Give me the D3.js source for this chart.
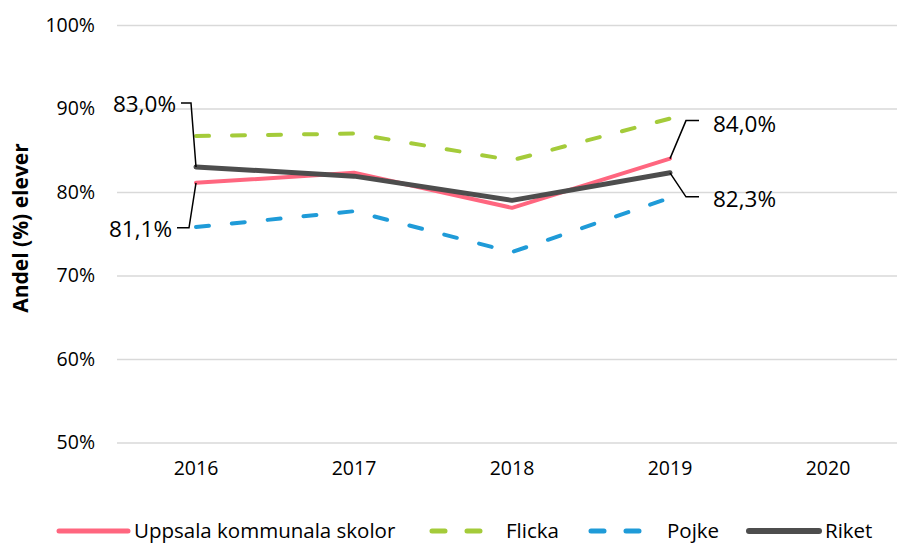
<!DOCTYPE html>
<html>
<head>
<meta charset="utf-8">
<script src="https://cdn.jsdelivr.net/npm/d3@7"></script>
<style>
  body { margin: 0; background: #fff; }
  svg { display: block; font-family: "Open Sans", sans-serif; }
</style>
</head>
<body>
<div id="chart"></div>
<script>
var years = ['2016', '2017', '2018', '2019', '2020'];
var uppsala = [81.1, 82.3, 78.1, 84.0];
var flicka = [86.7, 87.0, 83.8, 88.8];
var pojke = [75.8, 77.7, 72.8, 79.3];
var riket = [83.0, 81.9, 79.0, 82.3];
var yTicks = [50, 60, 70, 80, 90, 100];

var series = [
    { name: 'Uppsala kommunala skolor', values: uppsala, color: '#FF667F', width: 4, dash: null },
    { name: 'Flicka', values: flicka, color: '#A4CB3A', width: 4, dash: '13 23' },
    { name: 'Pojke', values: pojke, color: '#1F9BD8', width: 4, dash: '13 23' },
    { name: 'Riket', values: riket, color: '#4D4D4D', width: 5, dash: null }
];

// labelled points: series index, year index, offsets for leader/text
var labels = [
    { s: 3, i: 0, pts: [[-5, -64], [-15, -64]], tx: -20, ty: -63, anchor: 'end' },
    { s: 0, i: 0, pts: [[-7, 45], [-19, 45]], tx: -24, ty: 46, anchor: 'end' },
    { s: 0, i: 3, pts: [[16, -38], [29, -38]], tx: 43, ty: -34, anchor: 'start' },
    { s: 3, i: 3, pts: [[16, 24], [29, 24]], tx: 43, ty: 26, anchor: 'start' }
];

var W = 897, H = 545;
var svg = d3.select('#chart').append('svg')
    .attr('width', W)
    .attr('height', H);

var x = d3.scaleBand()
    .domain(years)
    .range([117, 907]);

var y = d3.scaleLinear()
    .domain([50, 100])
    .range([442.5, 25]);

function cx(i) { return x(years[i]) + x.bandwidth() / 2; }

// grid + y labels
var yAxis = d3.axisLeft(y)
    .tickValues(yTicks)
    .tickSize(-(907 - 117))
    .tickPadding(22)
    .tickFormat(function(d) { return d + '%'; });

var yG = svg.append('g')
    .attr('transform', 'translate(117,0)')
    .call(yAxis);
yG.select('.domain').remove();
yG.selectAll('line')
    .attr('stroke', '#d9d9d9')
    .attr('stroke-width', 1.5);
yG.selectAll('text')
    .attr('fill', '#000')
    .style('font-size', '19.5px')
    .style('font-family', '"Open Sans", sans-serif');

// x labels
var xAxis = d3.axisBottom(x).tickSize(0).tickPadding(0);
var xG = svg.append('g')
    .attr('transform', 'translate(0,461)')
    .call(xAxis);
xG.select('.domain').remove();
xG.selectAll('text')
    .attr('fill', '#000')
    .style('font-size', '19.5px')
    .style('font-family', '"Open Sans", sans-serif');

// axis title
svg.append('text')
    .attr('transform', 'translate(21,228) rotate(-90)')
    .attr('text-anchor', 'middle')
    .attr('dy', '0.35em')
    .style('font-size', '21px')
    .style('font-weight', 'bold')
    .text('Andel (%) elever');

var line = d3.line()
    .x(function(d, i) { return cx(i); })
    .y(function(d) { return y(d); })
    .curve(d3.curveLinear);

svg.selectAll('path.series')
    .data(series)
    .enter().append('path')
    .attr('class', 'series')
    .attr('d', function(d) { return line(d.values); })
    .attr('fill', 'none')
    .attr('stroke', function(d) { return d.color; })
    .attr('stroke-width', function(d) { return d.width; })
    .attr('stroke-dasharray', function(d) { return d.dash; })
    .attr('stroke-linecap', 'round')
    .attr('stroke-linejoin', 'round');

// data labels with leaders
labels.forEach(function(l) {
    var px = cx(l.i), py = y(series[l.s].values[l.i]);
    var pts = [[px, py]].concat(l.pts.map(function(p) { return [px + p[0], py + p[1]]; }));
    svg.append('path')
        .attr('d', d3.line()(pts))
        .attr('fill', 'none')
        .attr('stroke', '#000')
        .attr('stroke-width', 1.5);
    svg.append('text')
        .attr('x', px + l.tx)
        .attr('y', py + l.ty)
        .attr('dy', '0.35em')
        .attr('text-anchor', l.anchor)
        .style('font-size', '22.5px')
        .text(series[l.s].values[l.i].toFixed(1).replace('.', ',') + '%');
});

// legend
var legendX = [57, 430, 589, 747];
var legendW = [71, 56, 58, 72];
var lg = svg.selectAll('g.legend')
    .data(series)
    .enter().append('g')
    .attr('class', 'legend')
    .attr('transform', function(d, i) { return 'translate(' + legendX[i] + ',531)'; });
lg.append('line')
    .attr('x1', 2)
    .attr('x2', function(d, i) { return legendW[i]; })
    .attr('stroke', function(d) { return d.color; })
    .attr('stroke-width', function(d) { return d.width + 1; })
    .attr('stroke-dasharray', function(d) { return d.dash ? '13 22' : null; })
    .attr('stroke-linecap', 'round');
lg.append('text')
    .attr('x', function(d, i) { return legendW[i] + (d.dash ? 20 : 6); })
    .attr('dy', '0.35em')
    .style('font-size', '20.5px')
    .text(function(d) { return d.name; });
</script>
</body>
</html>
